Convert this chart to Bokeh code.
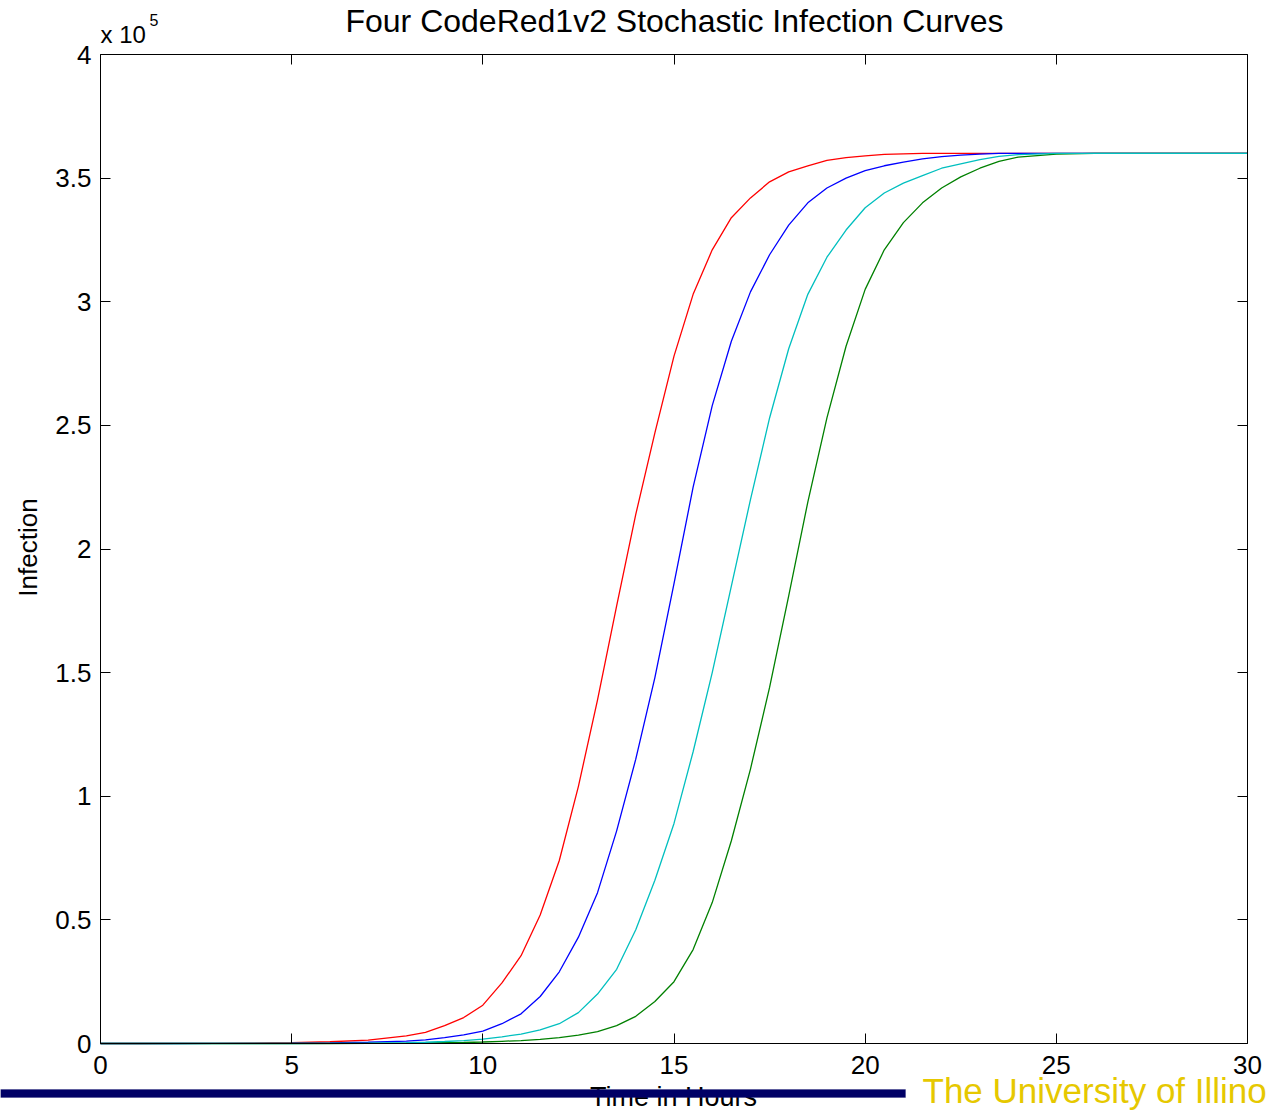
import math
from bokeh.plotting import figure
from bokeh.models import Range1d, LinearAxis, FixedTicker, Label, BoxAnnotation
from bokeh.embed import file_html
from bokeh.resources import INLINE

# ---- data ----
hours = [0, 1, 2, 3, 4, 5, 6, 7, 8, 8.5, 9, 9.5, 10, 10.5, 11, 11.5, 12, 12.5,
         13, 13.5, 14, 14.5, 15, 15.5, 16, 16.5, 17, 17.5, 18, 18.5, 19, 19.5,
         20, 20.5, 21, 21.5, 22, 22.5, 23, 23.5, 24, 25, 26, 27, 28, 29, 30]

# infections, in units of 1e5 hosts
red_e5 = [0, 0, 0.0003, 0.0006, 0.0015, 0.003, 0.007, 0.014, 0.031, 0.045, 0.072, 0.105,
          0.155, 0.245, 0.355, 0.52, 0.74, 1.04, 1.39, 1.77, 2.14, 2.47, 2.78, 3.03,
          3.21, 3.34, 3.42, 3.485, 3.525, 3.55, 3.572, 3.583, 3.59, 3.596, 3.598, 3.6,
          3.6, 3.6, 3.6, 3.6, 3.6, 3.6, 3.6, 3.6, 3.6, 3.6, 3.6]
blue_e5 = [0, 0, 0, 0.0002, 0.0005, 0.001, 0.002, 0.005, 0.01, 0.015, 0.024, 0.035,
           0.05, 0.08, 0.12, 0.19, 0.29, 0.43, 0.61, 0.86, 1.15, 1.48, 1.86, 2.25,
           2.58, 2.84, 3.04, 3.19, 3.31, 3.40, 3.46, 3.50, 3.53, 3.55, 3.565, 3.578,
           3.587, 3.593, 3.597, 3.6, 3.6, 3.6, 3.6, 3.6, 3.6, 3.6, 3.6]
cyan_e5 = [0, 0, 0, 0, 0, 0, 0.0005, 0.001, 0.003, 0.005, 0.008, 0.012,
           0.018, 0.027, 0.038, 0.055, 0.08, 0.125, 0.2, 0.3, 0.46, 0.66, 0.89, 1.18,
           1.5, 1.85, 2.2, 2.53, 2.81, 3.03, 3.18, 3.29, 3.38, 3.44, 3.48, 3.51,
           3.54, 3.558, 3.575, 3.588, 3.595, 3.6, 3.6, 3.6, 3.6, 3.6, 3.6]
green_e5 = [0, 0, 0, 0, 0, 0, 0, 0.0005, 0.001, 0.002, 0.003, 0.004,
            0.006, 0.009, 0.012, 0.017, 0.024, 0.034, 0.048, 0.072, 0.11, 0.17, 0.25, 0.38,
            0.57, 0.82, 1.11, 1.44, 1.81, 2.19, 2.53, 2.82, 3.05, 3.21, 3.32, 3.40,
            3.46, 3.505, 3.54, 3.568, 3.585, 3.597, 3.6, 3.6, 3.6, 3.6, 3.6]

x_ticks = [0, 5, 10, 15, 20, 25, 30]
y_ticks = [0, 50000, 100000, 150000, 200000, 250000, 300000, 350000, 400000]
y_tick_labels = ["0", "0.5", "1", "1.5", "2", "2.5", "3", "3.5", "4"]

TITLE = "Four CodeRed1v2 Stochastic Infection Curves"
X_LABEL = "Time in Hours"
Y_LABEL = "Infection"
EXP_BASE = "x 10"
EXP_POWER = "5"
FOOTER = "The University of Illinois"

SCALE = 1e5
X_MIN, X_MAX = 0, 30
Y_MIN, Y_MAX = 0, 400000

series = [
    (red_e5, "#ff0000"),
    (blue_e5, "#0000ff"),
    (green_e5, "#008000"),
    (cyan_e5, "#00bfbf"),
]

# ---- layout (pixels) ----
FONT = "Liberation Sans"
W, H = 1268, 1112
BOX_L, BOX_R, BOX_T, BOX_B = 100, 1247, 54, 1043

ux = (X_MAX - X_MIN) / (BOX_R - BOX_L)   # data per pixel
uy = (Y_MAX - Y_MIN) / (BOX_B - BOX_T)
x_range = Range1d(X_MIN - BOX_L * ux, X_MAX + (W - BOX_R) * ux)
y_range = Range1d(Y_MIN - (H - BOX_B) * uy, Y_MAX + BOX_T * uy)

p = figure(width=W, height=H, output_backend="svg", toolbar_location=None,
           x_range=x_range, y_range=y_range,
           x_axis_location=None, y_axis_location=None, min_border=0)
p.background_fill_color = "white"
p.border_fill_color = "white"
p.outline_line_color = None
p.xgrid.visible = False
p.ygrid.visible = False

for vals, col in series:
    p.line(hours, [v * SCALE for v in vals], line_color=col, line_width=1.3)


def box_axis(loc, ticks, bounds, labels):
    ax = LinearAxis(fixed_location=loc, bounds=bounds)
    ax.ticker = FixedTicker(ticks=ticks)
    ax.major_tick_in = 10
    ax.major_tick_out = 0
    ax.minor_tick_in = 0
    ax.minor_tick_out = 0
    ax.axis_line_color = "black"
    ax.axis_line_width = 1
    ax.major_tick_line_color = "black"
    ax.major_label_text_font = FONT
    ax.major_label_text_font_size = "26px"
    if labels:
        ax.major_label_text_color = "black"
    else:
        ax.major_label_text_color = None
    return ax


bottom = box_axis(Y_MIN, x_ticks, (X_MIN, X_MAX), True)
bottom.major_label_standoff = 12
p.add_layout(bottom, "below")

left = box_axis(X_MIN, y_ticks, (Y_MIN, Y_MAX), True)
left.major_label_overrides = {t: l for t, l in zip(y_ticks, y_tick_labels)}
left.major_label_standoff = 9
p.add_layout(left, "left")

top = box_axis(Y_MAX, x_ticks, (X_MIN, X_MAX), False)
p.add_layout(top, "above")
right = box_axis(X_MAX, y_ticks, (Y_MIN, Y_MAX), False)
p.add_layout(right, "right")


def text(x, y_img, s, size, color="black", align="left", angle=0.0):
    # screen units: x from the left, y from the bottom of the canvas;
    # y_img is the vertical middle of the text, measured from the top
    p.add_layout(Label(x=x, y=H - y_img, x_units="screen", y_units="screen",
                       text=s, text_font=FONT, text_font_size=size,
                       text_color=color, text_align=align,
                       text_baseline="middle", angle=angle))


text(674, 20.5, TITLE, "32px", align="center")
text(100, 33.5, EXP_BASE, "24px")
text(149, 19.2, EXP_POWER, "16px")
text(27.8, 547, Y_LABEL, "26px", align="center", angle=math.pi / 2)
text(673, 1096.7, X_LABEL, "27px", align="center")

p.add_layout(BoxAnnotation(left=0, right=905, bottom=H - 1097, top=H - 1089,
                           left_units="screen", right_units="screen",
                           top_units="screen", bottom_units="screen",
                           fill_color="#000066", fill_alpha=1.0,
                           line_color="#1a1a70", line_width=1))

text(922, 1090, FOOTER, "35px", color="#e6c800")

open("out.html", "w").write(file_html(p, INLINE))
